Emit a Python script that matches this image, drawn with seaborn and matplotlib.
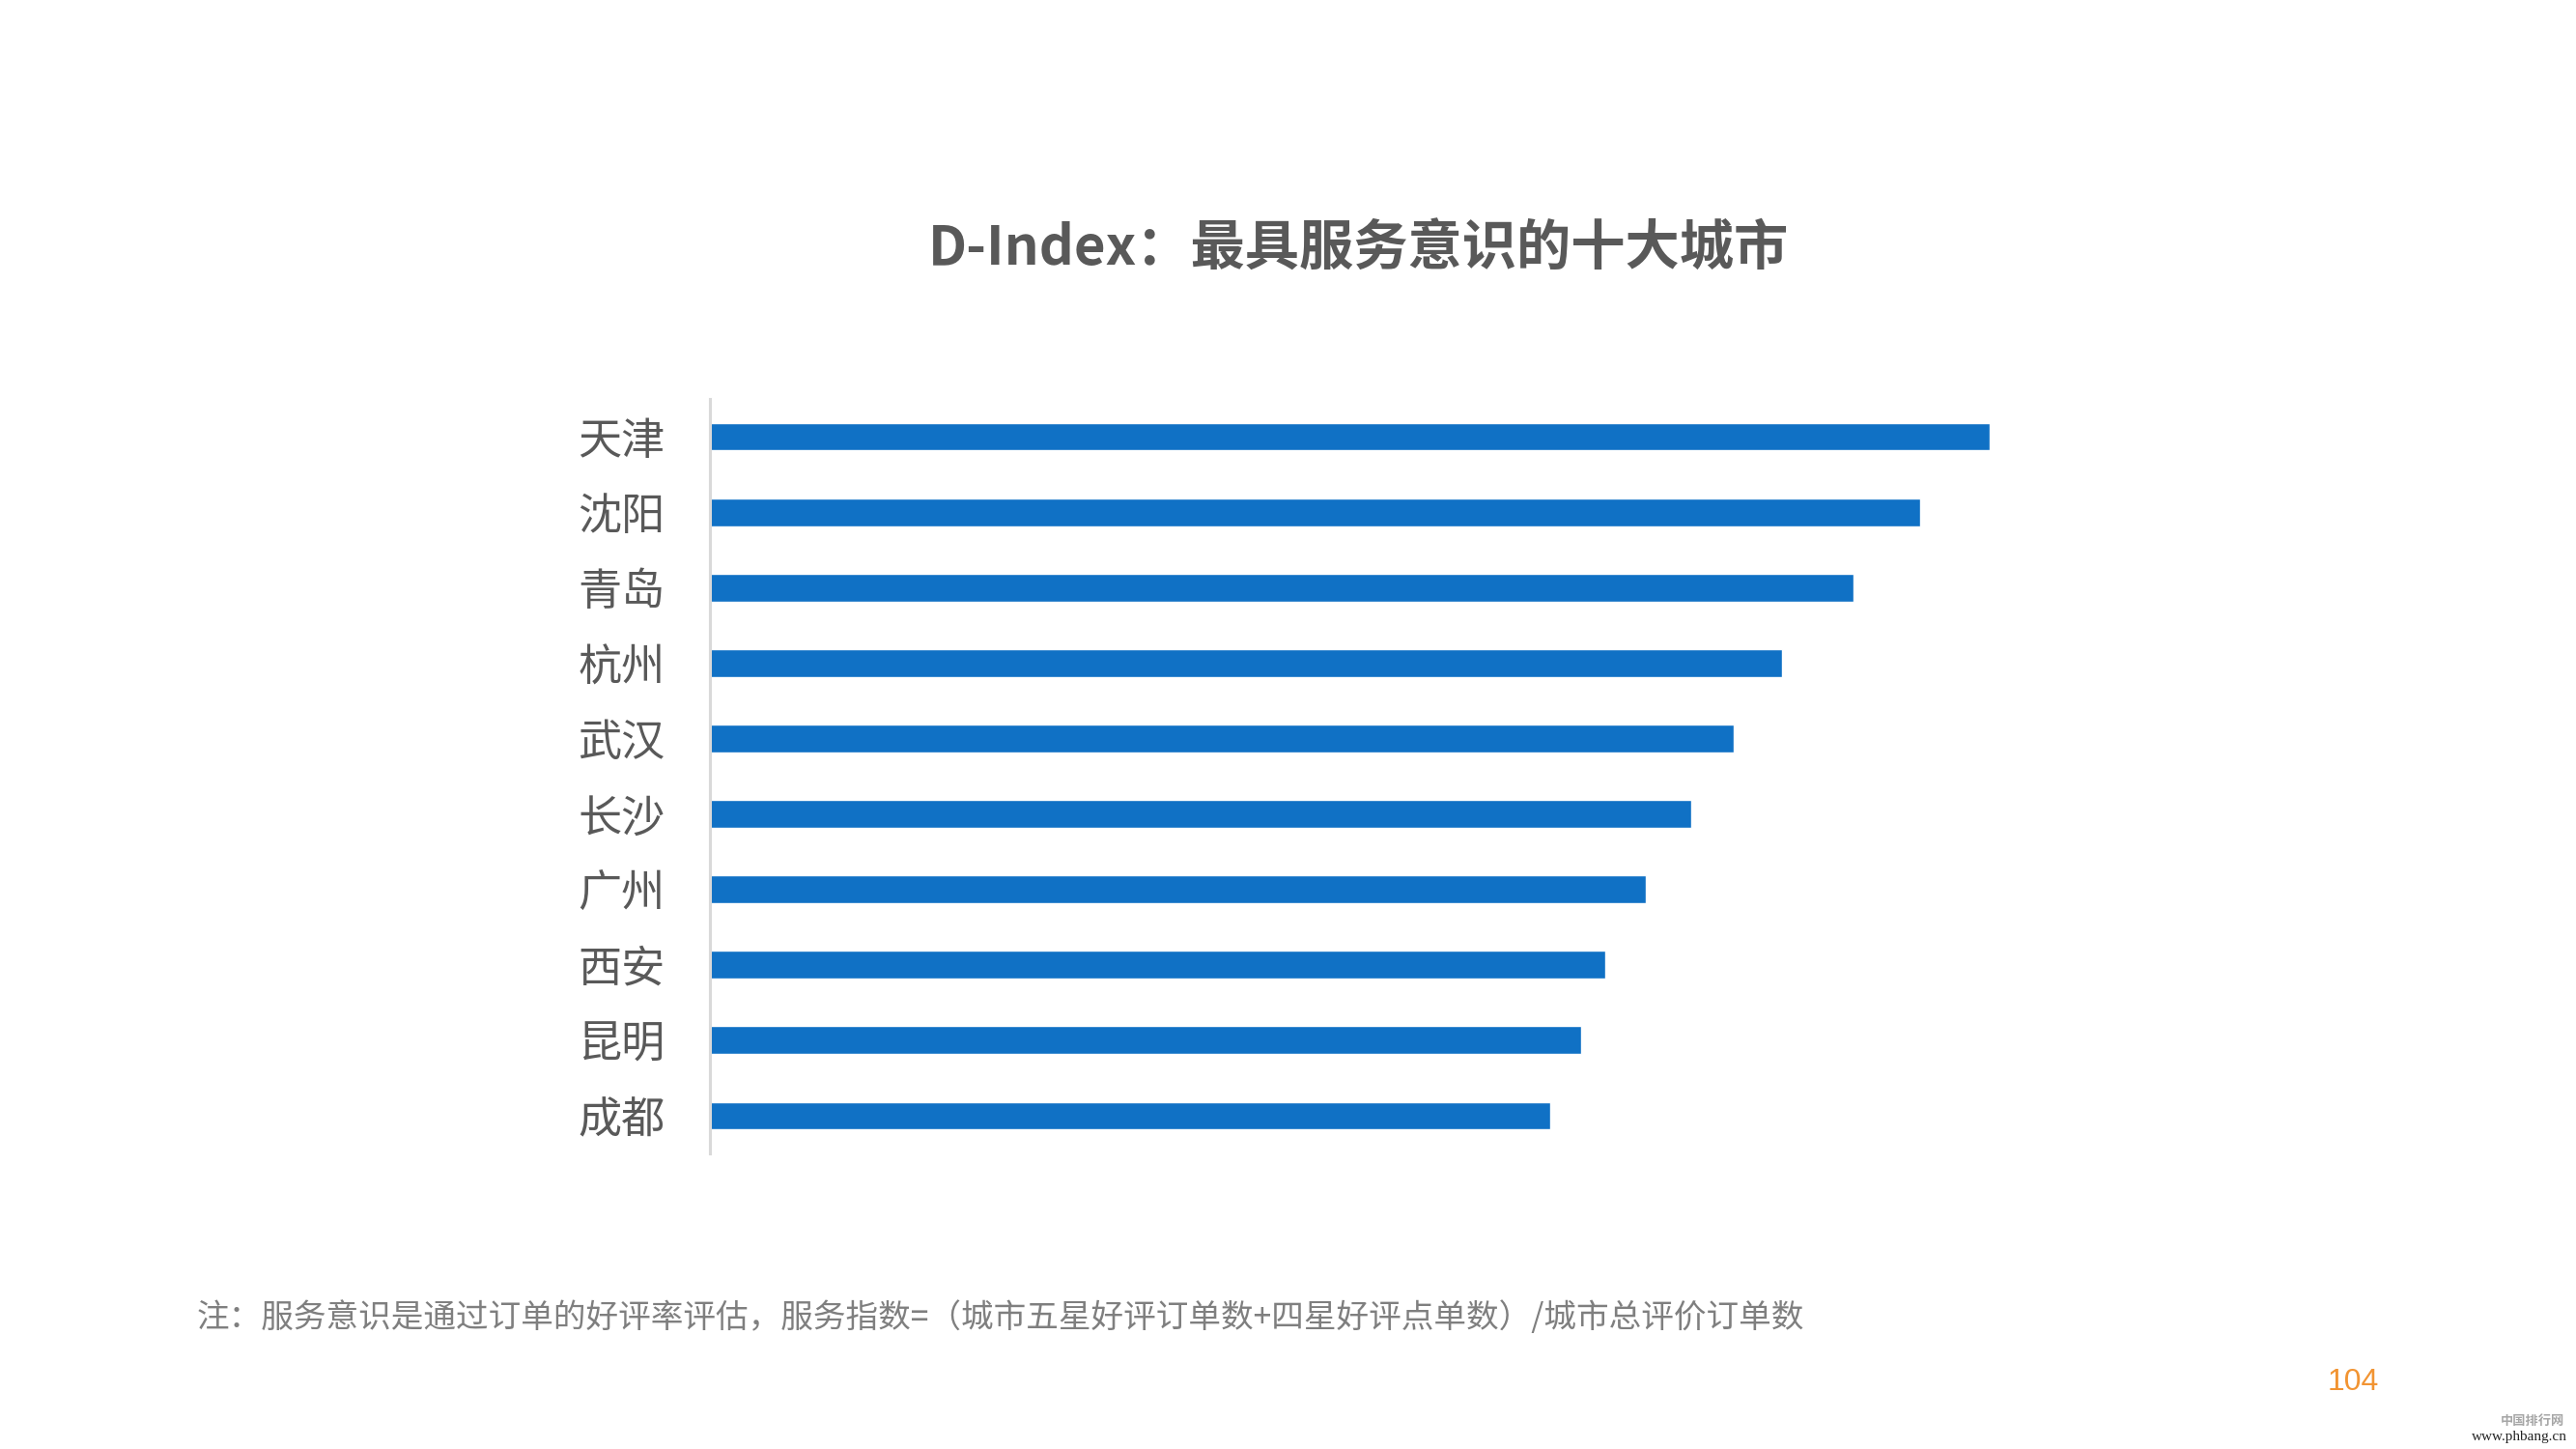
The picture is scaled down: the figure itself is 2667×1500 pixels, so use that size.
import seaborn as sns
import matplotlib.pyplot as plt
import pandas as pd

# chart data (relative index, Tianjin = 100; no axis values are printed on the slide)
cities = ['天津', '沈阳', '青岛', '杭州', '武汉', '长沙', '广州', '西安', '昆明', '成都']
scores = [100, 94.6, 89.4, 83.8, 80.0, 76.7, 73.2, 70.0, 68.1, 65.7]

title = 'D-Index：最具服务意识的十大城市'
note = '注：服务意识是通过订单的好评率评估，服务指数=（城市五星好评订单数+四星好评点单数）/城市总评价订单数'
page_no = '104'

df = pd.DataFrame({'city': cities, 'score': scores})

sns.set_style('white')
plt.rcParams['font.family'] = ['Noto Sans CJK SC', 'DejaVu Sans']

fig = plt.figure(figsize=(26.67, 15), dpi=100)
ax = fig.add_axes([734.5 / 2667, 1 - 1194 / 1500, 1325 / 2667, 781 / 1500])

sns.barplot(data=df, y='city', x='score', color='#1071C5', saturation=1,
            width=0.37, orient='h', ax=ax)

ax.set_xlim(0, 100)
ax.set_ylim(9.5, -0.5)
ax.set_xlabel('')
ax.set_ylabel('')
ax.set_xticks([])
ax.tick_params(axis='y', length=0, pad=33, labelsize=32.5, labelcolor='#595959')

for side in ['top', 'right', 'bottom']:
    ax.spines[side].set_visible(False)
ax.spines['left'].set_color('#D9D9D9')
ax.spines['left'].set_linewidth(2.2)

# title
fig.text(1407 / 2667, 1 - 258 / 1500, title, ha='center', va='center',
         fontsize=40.5, fontweight='bold', color='#595959')

# footnote
fig.text(204 / 2667, 1 - 1365 / 1500, note, ha='left', va='center',
         fontsize=24.2, color='#7F7F7F')

# page number
fig.text(2410 / 2667, 1 - 1431 / 1500, page_no, ha='left', va='center',
         fontsize=23, color='#F29432', family=['Liberation Sans', 'DejaVu Sans'])

# watermark
fig.text(2622 / 2667, 1 - 1471 / 1500, '中国排行网', ha='center', va='center',
         fontsize=9.5, color='#A6A6A6', fontweight='bold')
fig.text(2658 / 2667, 1 - 1488 / 1500, 'www.phbang.cn', ha='right', va='center',
         fontsize=11, color='#222222', family=['Liberation Serif', 'DejaVu Serif'])

fig.savefig('out.png', dpi=100)
